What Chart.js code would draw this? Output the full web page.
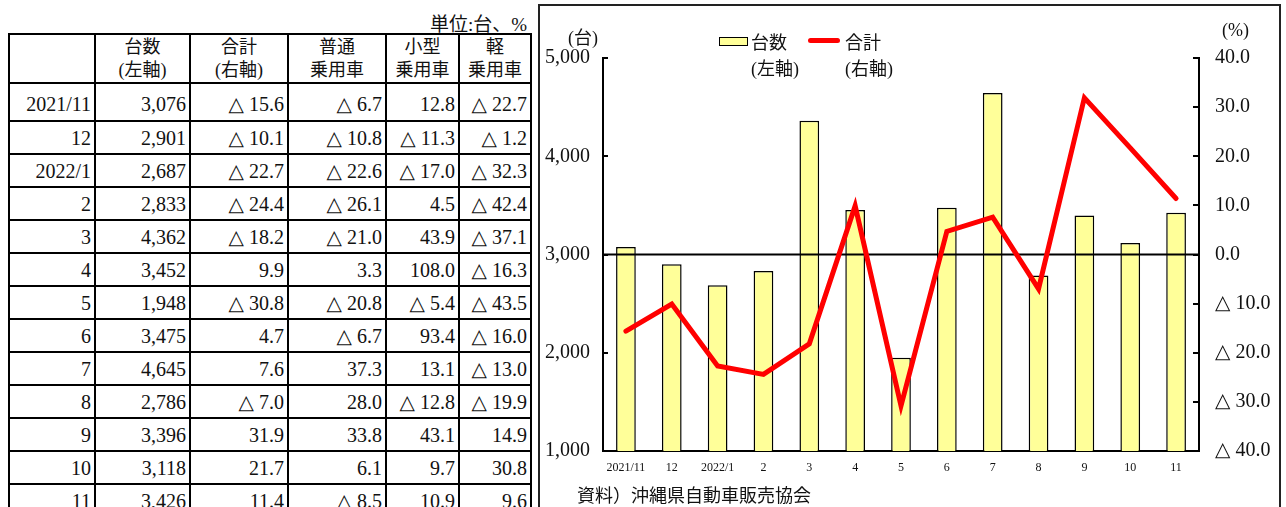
<!DOCTYPE html>
<html lang="ja">
<head>
<meta charset="utf-8">
<script src="https://cdn.jsdelivr.net/npm/chart.js@4"></script>
<style>
  body { margin:0; background:#fff; font-family:"Liberation Serif","DejaVu Serif","Noto Sans CJK JP",serif; color:#111; }
  .page { position:relative; width:1286px; height:507px; overflow:hidden; }
  .abs { position:absolute; white-space:nowrap; }
  .unit { right:759px; top:9px; font-size:19px; }
  table.tbl { position:absolute; left:8px; top:33px; border-collapse:collapse; font-size:20px; table-layout:fixed; }
  .tbl td, .tbl th { border:2px solid #000; padding:0 3px 0 0; text-align:right; font-weight:normal; line-height:20px; }
  .tbl th { text-align:center; padding:0; height:47px; font-size:18px; line-height:23px; }
  .tbl tr.first td { height:32px; padding-top:4px; }
  .tbl td { height:30px; padding-top:1px; }
  .box { position:absolute; left:538px; top:4px; width:739px; height:520px; border:2px solid #222; }
  #chart { position:absolute; left:538px; top:0; }
  .lbl { font-size:18px; }
  .sw-bar { left:719px; top:37px; width:27px; height:7px; border:1.5px solid #000; background:#ffff99; }
  .sw-line { left:808px; top:38px; width:32px; height:5px; border-radius:3px; background:#ff0000; }
</style>
</head>
<body>
<div class="page">
  <div class="abs unit">単位:台、%</div>
  <table class="tbl" id="tbl">
    <colgroup>
      <col style="width:86px"><col style="width:95px"><col style="width:98px">
      <col style="width:98px"><col style="width:73px"><col style="width:72px">
    </colgroup>
  </table>
  <div class="box"></div>
  <canvas id="chart" width="748" height="507"></canvas>
  <div class="abs lbl" style="left:568px;top:23px;">(台)</div>
  <div class="abs lbl" style="left:1222px;top:20px;">(%)</div>
  <div class="abs sw-bar"></div>
  <div class="abs lbl" style="left:751px;top:28px;">台数</div>
  <div class="abs lbl" style="left:751px;top:54px;">(左軸)</div>
  <div class="abs sw-line"></div>
  <div class="abs lbl" style="left:845px;top:28px;">合計</div>
  <div class="abs lbl" style="left:845px;top:54px;">(右軸)</div>
  <div class="abs lbl" style="left:577px;top:481px;">資料）沖縄県自動車販売協会</div>
</div>
<script>
  const months = ['2021/11','12','2022/1','2','3','4','5','6','7','8','9','10','11'];
  const units = [3076, 2901, 2687, 2833, 4362, 3452, 1948, 3475, 4645, 2786, 3396, 3118, 3426];
  const total = [-15.6, -10.1, -22.7, -24.4, -18.2, 9.9, -30.8, 4.7, 7.6, -7.0, 31.9, 21.7, 11.4];
  const futsu = [-6.7, -10.8, -22.6, -26.1, -21.0, 3.3, -20.8, -6.7, 37.3, 28.0, 33.8, 6.1, -8.5];
  const kogata = [12.8, -11.3, -17.0, 4.5, 43.9, 108.0, -5.4, 93.4, 13.1, -12.8, 43.1, 9.7, 10.9];
  const kei = [-22.7, -1.2, -32.3, -42.4, -37.1, -16.3, -43.5, -16.0, -13.0, -19.9, 14.9, 30.8, 9.6];

  const pct = v => v < 0 ? '△ ' + Math.abs(v).toFixed(1) : v.toFixed(1);

  // table
  const tbl = document.getElementById('tbl');
  let html = '<tr><th></th><th>台数<br>(左軸)</th><th>合計<br>(右軸)</th><th>普通<br>乗用車</th><th>小型<br>乗用車</th><th>軽<br>乗用車</th></tr>';
  months.forEach((m, i) => {
    html += '<tr' + (i === 0 ? ' class="first"' : '') + '><td>' + m + '</td><td>' + units[i].toLocaleString('en-US') +
      '</td><td>' + pct(total[i]) + '</td><td>' + pct(futsu[i]) + '</td><td>' + pct(kogata[i]) + '</td><td>' + pct(kei[i]) + '</td></tr>';
  });
  tbl.insertAdjacentHTML('beforeend', html);

  // inward tick marks + zero line under the red line
  const extras = {
    id: 'extras',
    beforeDatasetDraw(chart, args) {
      if (args.index !== 1) return;
      const {ctx, chartArea} = chart;
      const y0 = chart.scales.y1.getPixelForValue(0);
      ctx.save();
      ctx.strokeStyle = '#000';
      ctx.lineWidth = 2;
      ctx.beginPath();
      ctx.moveTo(chartArea.left, y0);
      ctx.lineTo(chartArea.right, y0);
      ctx.stroke();
      ctx.restore();
    },
    afterDraw(chart) {
      const {ctx, chartArea} = chart;
      ctx.save();
      ctx.strokeStyle = '#000';
      ctx.lineWidth = 2;
      chart.scales.y.ticks.forEach(t => {
        const py = Math.round(chart.scales.y.getPixelForValue(t.value));
        ctx.beginPath(); ctx.moveTo(chartArea.left, py); ctx.lineTo(chartArea.left + 5, py); ctx.stroke();
      });
      chart.scales.y1.ticks.forEach(t => {
        const py = Math.round(chart.scales.y1.getPixelForValue(t.value));
        ctx.beginPath(); ctx.moveTo(chartArea.right, py); ctx.lineTo(chartArea.right - 6, py); ctx.stroke();
      });
      ctx.restore();
    }
  };

  const serif = '"Liberation Serif","DejaVu Serif","Noto Sans CJK JP",serif';

  new Chart(document.getElementById('chart'), {
    data: {
      labels: months,
      datasets: [
        { type:'bar', label:'台数', data:units, yAxisID:'y', order:1,
          backgroundColor:'#ffff99', borderColor:'#000', borderWidth:1.5,
          barPercentage:0.43, categoryPercentage:1 },
        { type:'line', label:'合計', data:total, yAxisID:'y1', order:0,
          borderColor:'#ff0000', borderWidth:5, pointRadius:0, tension:0,
          borderCapStyle:'round', borderJoinStyle:'miter' }
      ]
    },
    options: {
      responsive:false,
      animation:false,
      devicePixelRatio:1,
      layout:{ padding:{ top:58, left:0, right:0, bottom:0 } },
      plugins:{ legend:{ display:false }, tooltip:{ enabled:false } },
      scales:{
        x:{
          grid:{ display:false, drawTicks:false },
          border:{ display:true, color:'#000', width:2 },
          ticks:{ color:'#111', padding:10, maxRotation:0, autoSkip:false, font:{ family:serif, size:12 } },
          afterFit: s => { s.height = 56; }
        },
        y:{
          position:'left', min:1000, max:5000, beginAtZero:false,
          grid:{ display:false, drawTicks:false },
          border:{ display:true, color:'#000', width:2 },
          ticks:{ stepSize:1000, color:'#111', padding:13, font:{ family:serif, size:20 },
            callback: v => v.toLocaleString('en-US') },
          afterFit: s => { s.width = 65; }
        },
        y1:{
          position:'right', min:-40, max:40,
          grid:{ display:false, drawTicks:false },
          border:{ display:true, color:'#000', width:2 },
          ticks:{ stepSize:10, color:'#111', padding:16, font:{ family:serif, size:20 },
            callback: v => pct(v) },
          afterFit: s => { s.width = 87; }
        }
      }
    },
    plugins:[extras]
  });
</script>
</body>
</html>
